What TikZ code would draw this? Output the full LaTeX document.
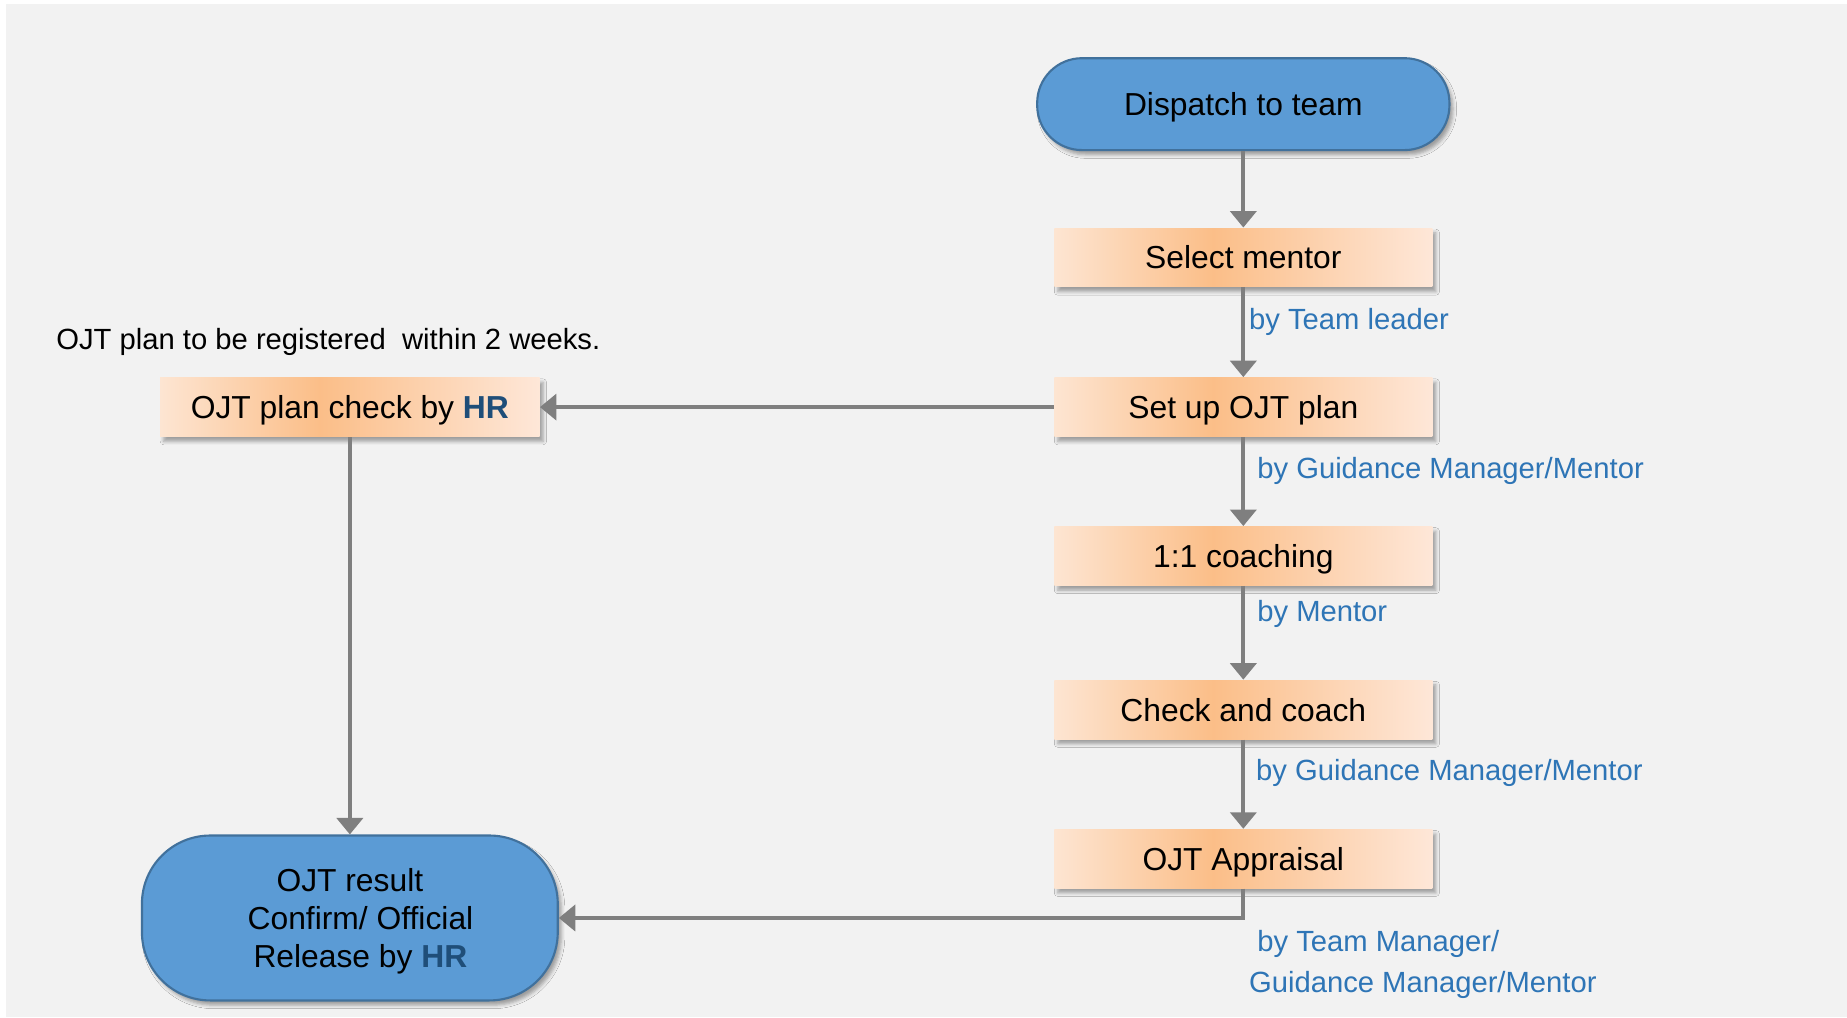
\documentclass[tikz,border=0pt]{standalone}
\usepackage{fontspec}
\setmainfont{Liberation Sans}
\usetikzlibrary{arrows.meta,shadows,shadows.blur}
\definecolor{bgray}{HTML}{F2F2F2}
\definecolor{nblue}{HTML}{5B9BD5}
\definecolor{nbord}{HTML}{41719C}
\definecolor{lblue}{HTML}{2E75B6}
\definecolor{hrblue}{HTML}{1F4E79}
\definecolor{argray}{HTML}{7F7F7F}
\definecolor{orL}{HTML}{FDE5D2}
\definecolor{orD}{HTML}{FBBE88}
\definecolor{orR}{HTML}{FEE7D8}
\pgfdeclarehorizontalshading{orgrad}{100bp}{color(0bp)=(orL); color(25bp)=(orL); color(46bp)=(orD); color(75bp)=(orR); color(100bp)=(orR)}
\begin{document}
\begin{tikzpicture}[x=0.5pt,y=-0.5pt,
  softshadow/.style={blur shadow={shadow xshift=1.5pt,shadow yshift=-2pt,shadow blur radius=1.5pt,shadow opacity=35}},
  stepbox/.style={rectangle, minimum width=160.5pt, minimum height=25pt, inner sep=0pt,
    text height=9.7pt, text depth=0pt,
    shade, shading=orgrad, softshadow, font=\fontsize{13.5}{16}\selectfont},
  term/.style={rectangle, fill=nblue, draw=nbord, line width=0.9pt, softshadow, inner sep=0pt,
    font=\fontsize{13.5}{16.25}\selectfont},
  arr/.style={draw=argray, line width=1.75pt, -{Triangle[width=11pt,length=7pt]}},
  lab/.style={anchor=base west, text=lblue, font=\fontsize{12.4}{15}\selectfont, inner sep=0pt},
]
\fill[white] (0,0) rectangle (1568,863.4);
\fill[bgray] (5,3.4) rectangle (1568,863.4);
\useasboundingbox (0,0) rectangle (1568,863.4);

\node[term, rounded corners=19pt, minimum width=175pt, minimum height=39pt, text height=9.7pt, text depth=0pt] (disp) at (1055.5,88.4) {Dispatch to team};
\node[stepbox] (sel) at (1055.5,218.6) {Select mentor};
\node[stepbox] (setup) at (1055.5,345.6) {Set up OJT plan};
\node[stepbox] (coach) at (1055.5,472) {1:1 coaching};
\node[stepbox] (chk) at (1055.5,602.4) {Check and coach};
\node[stepbox] (appr) at (1055.5,729) {OJT Appraisal};
\node[stepbox, minimum width=161pt] (hrchk) at (297,345.6) {OJT plan check by \textbf{\color{hrblue}HR}};
\node[term, rounded corners=29pt, minimum width=176.5pt, minimum height=70pt, align=center, text depth=0pt] (res) at (297,779.3)
  {OJT result\\ \hspace*{9pt}Confirm/ Official\\ \hspace*{9pt}Release by \textbf{\color{hrblue}HR}};

\draw[arr] (disp.south) -- (sel.north);
\draw[arr] (sel.south) -- (setup.north);
\draw[arr] (setup.south) -- (coach.north);
\draw[arr] (coach.south) -- (chk.north);
\draw[arr] (chk.south) -- (appr.north);
\draw[arr] (setup.west) -- (hrchk.east);
\draw[arr] (hrchk.south) -- (res.north);
\draw[arr] (appr.south) |- (res.east);

\node[lab] (l1) at (1060,280) {by Team leader};
\node[lab] (l2) at (1067,406) {by Guidance Manager/Mentor};
\node[lab] (l3) at (1067,528) {by Mentor};
\node[lab] (l4) at (1066,663) {by Guidance Manager/Mentor};
\node[lab] (l5) at (1067,808) {by Team Manager/};
\node[lab] (l6) at (1060,842.5) {Guidance Manager/Mentor};
\node[lab, text=black] (note) at (47.4,297) {OJT plan to be registered\ \ within 2 weeks.};
\end{tikzpicture}
\end{document}
